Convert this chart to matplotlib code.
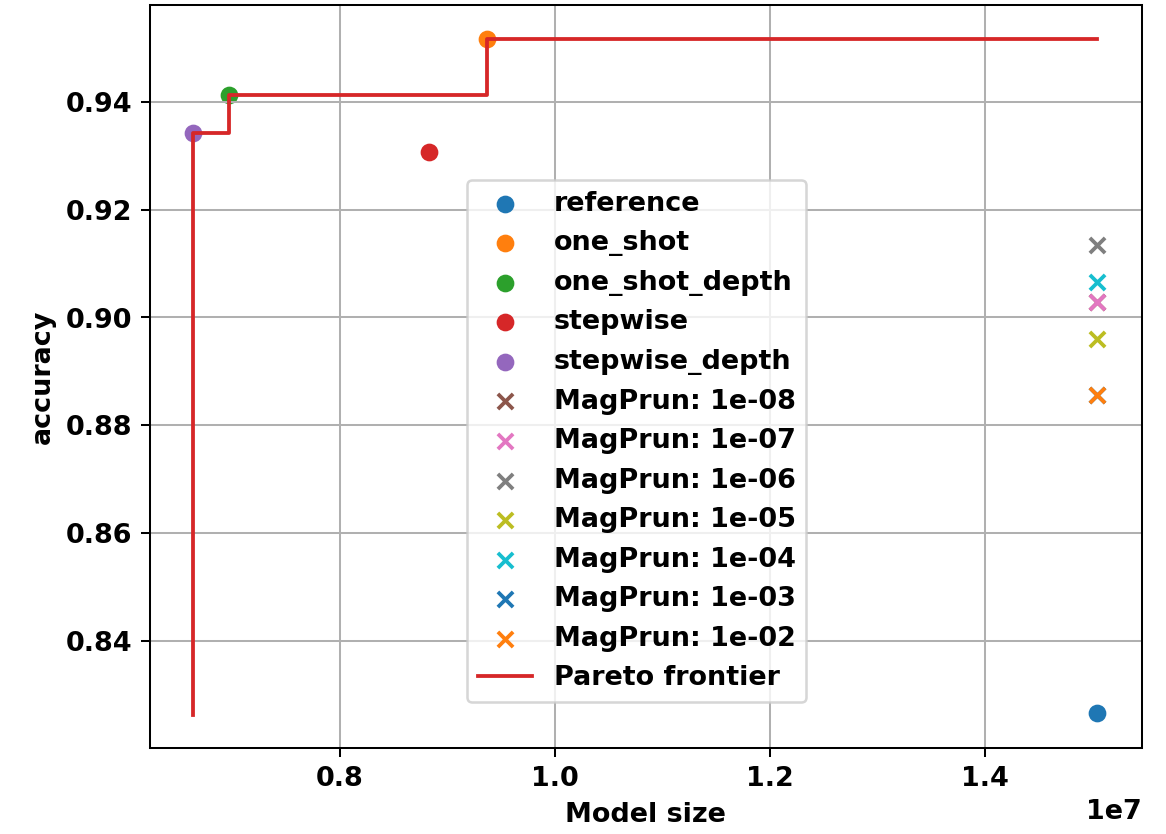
import matplotlib
matplotlib.use('Agg')
import matplotlib.pyplot as plt

plt.rcParams['font.weight'] = 'bold'
plt.rcParams['axes.labelweight'] = 'bold'
plt.rcParams['font.size'] = 10.7

# methods (model size, accuracy)
method_names = ['reference', 'one_shot', 'one_shot_depth', 'stepwise', 'stepwise_depth']
method_size = [1.504e7, 0.9367e7, 0.6967e7, 0.8828e7, 0.6633e7]
method_acc = [0.8266, 0.9517, 0.9413, 0.9307, 0.9342]

# magnitude pruning thresholds
mag_names = ['1e-08', '1e-07', '1e-06', '1e-05', '1e-04', '1e-03', '1e-02']
mag_size = [1.504e7, 1.504e7, 1.504e7, 1.504e7, 1.504e7, 1.504e7, 1.504e7]
mag_acc = [0.9029, 0.9029, 0.9135, 0.8960, 0.9066, 0.8856, 0.8856]

# pareto frontier
frontier_size = [0.6633e7, 0.6633e7, 0.6967e7, 0.9367e7, 1.504e7]
frontier_acc = [0.8263, 0.9342, 0.9413, 0.9517, 0.9517]

fig = plt.figure(figsize=(6.4, 4.575), dpi=182.3)
ax = fig.add_axes([0.1285, 0.1031, 0.8501, 0.8909])

for name, s, a in zip(method_names, method_size, method_acc):
    ax.scatter(s, a, label=name)
for name, s, a in zip(mag_names, mag_size, mag_acc):
    ax.scatter(s, a, marker='x', label='MagPrun: ' + name)

ax.plot(frontier_size, frontier_acc, drawstyle='steps-post', color='#d62728', label='Pareto frontier')

ax.set_xlim(0.6233e7, 1.546e7)
ax.set_ylim(0.8201, 0.958)
ax.set_xlabel('Model size')
ax.set_ylabel('accuracy')
ax.grid(True)
ax.legend(loc='upper left', bbox_to_anchor=(0.3196, 0.7645), borderaxespad=0)

fig.savefig('out.png', dpi=182.3)
